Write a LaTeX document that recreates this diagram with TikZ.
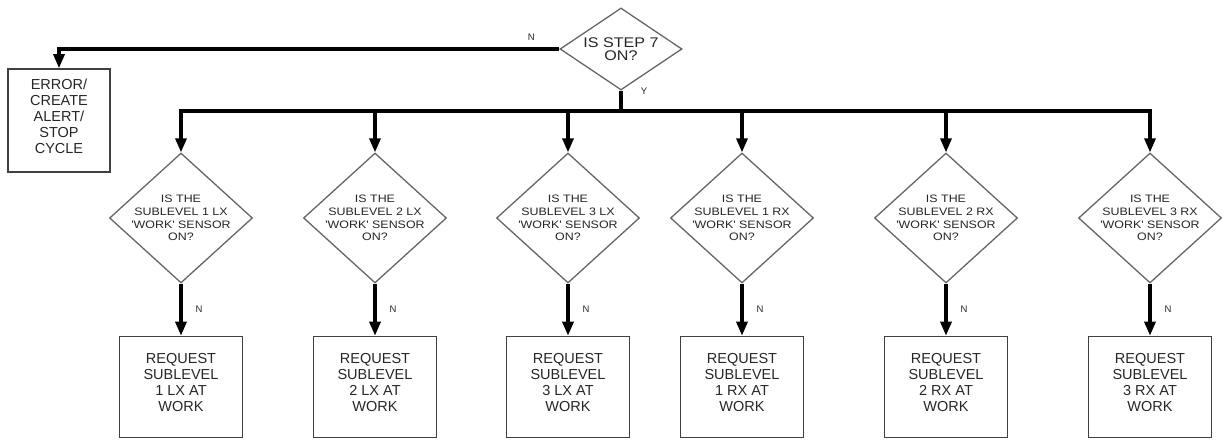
\documentclass[tikz,border=0pt]{standalone}
\usepackage{fontspec}
\setmainfont{Liberation Sans}
\newfontfamily\widesans[FakeStretch=1.15]{Liberation Sans}
\usetikzlibrary{shapes.geometric,arrows.meta}

\begin{document}
\begin{tikzpicture}[x=1pt,y=-1pt,
  flow/.style={line width=3.2pt, draw=black},
  arrowline/.style={flow, -{Triangle[length=14pt,width=11pt]}},
  decision/.style={diamond, draw=black!60, line width=1.3pt, inner sep=0pt, fill=white},
  coldia/.style={decision, minimum width=143pt, minimum height=130pt},
  topdia/.style={decision, minimum width=122pt, minimum height=82pt},
  dtext/.style={align=center, text=black!85, inner sep=0pt,
    font=\widesans\fontsize{10.8}{12.7}\selectfont},
  ttext/.style={align=center, text=black!85, inner sep=0pt,
    font=\widesans\fontsize{14}{13.5}\selectfont},
  btext/.style={align=center, text=black!85, inner sep=0pt, yshift=4.5pt,
    font=\fontsize{14.5}{16}\selectfont},
  actbox/.style={rectangle, draw=black!75, line width=1.6pt, inner sep=0pt},
  colbox/.style={actbox, minimum width=123pt, minimum height=101pt},
  lab/.style={inner sep=0pt, text=black!85, font=\fontsize{9.5}{11}\selectfont},
]
\useasboundingbox (0,0) rectangle (1231,441);

% top decision and the error branch
\node[topdia, label={[ttext]center:IS STEP 7\\ON?}] (top) at (621,49) {};
\node[actbox, minimum width=102pt, minimum height=103pt,
  label={[btext]center:ERROR/\\CREATE\\ALERT/\\STOP\\CYCLE}] (err) at (59,120.5) {};
\node[lab] (topn) at ([shift={(-28,-12)}]top.west) {N};
\node[lab] (topy) at ([shift={(23,1)}]top.south) {Y};
\draw[arrowline] (top.west) -| (err.north);

% six sensor checks, each leading to a request box
\foreach \x/\i/\s in {181/1/1 LX, 375/2/2 LX, 568/3/3 LX, 742/4/1 RX, 946/5/2 RX, 1150/6/3 RX}{
  \node[coldia, label={[dtext]center:IS THE\\SUBLEVEL \s\\'WORK' SENSOR\\ON?}] (d\i) at (\x,218) {};
  \node[colbox, label={[btext]center:REQUEST\\SUBLEVEL\\\s{} AT\\WORK}] (b\i) at (\x,387) {};
  \draw[arrowline] (d\i.south) -- node[lab, right=13pt] (n\i) {N} (b\i.north);
}

% yes branch: distribution bus
\coordinate (bus) at (top.south |- 0,111);
\draw[flow] (top.south) -- (bus);
\draw[flow, line cap=rect] (bus -| d1.north) -- (bus -| d6.north);
\foreach \i in {1,...,6}{
  \draw[arrowline] (bus -| d\i.north) -- (d\i.north);
}
\end{tikzpicture}
\end{document}
